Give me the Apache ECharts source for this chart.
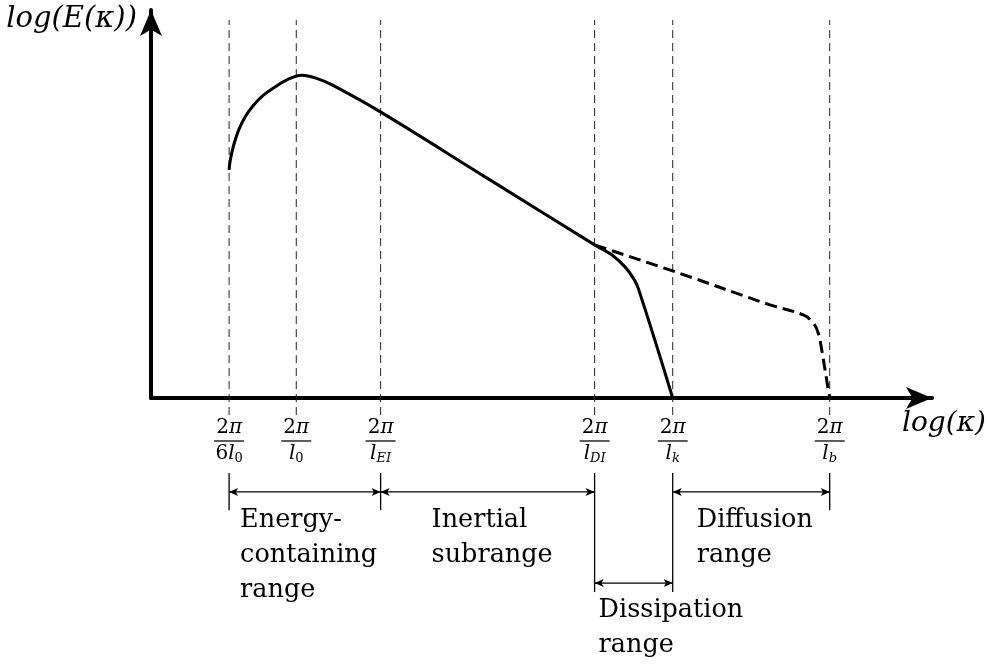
<!DOCTYPE html>
<html><head><meta charset="utf-8">
<script src="https://cdn.jsdelivr.net/npm/echarts@6/dist/echarts.min.js"></script>
<style>html,body{margin:0;padding:0;background:#fff}#c{width:989px;height:666px}</style>
</head><body><div id="c"></div>
<script>
// ---- data (log-wavenumber / log-energy, arbitrary units) ----
const markerK = [1.00, 1.86, 2.94, 5.68, 6.68, 8.69];
const tickCoef = ['6', '', '', '', '', ''];
const tickSub = ['0', '0', 'EI', 'DI', 'k', 'b'];

const spectrumK = [1.00, 1.015, 1.059, 1.123, 1.207, 1.315, 1.443, 1.592, 1.741, 1.933, 2.147, 2.318, 2.932, 4.3085, 5.685, 5.899, 6.069, 6.175, 6.239, 6.68];
const spectrumE = [5.88, 6.13, 6.52, 6.91, 7.25, 7.55, 7.81, 8.02, 8.20, 8.32, 8.22, 8.07, 7.38, 5.66, 3.94, 3.69, 3.38, 3.09, 2.83, 0.00];
const diffusionK = [5.685, 6.774, 7.926, 8.352, 8.480, 8.544, 8.588, 8.672, 8.69];
const diffusionE = [3.94, 3.21, 2.40, 2.14, 1.93, 1.67, 1.24, 0.21, 0.03];

const rangeNames = ['Energy-\ncontaining\nrange', 'Inertial\nsubrange', 'Diffusion\nrange', 'Dissipation\nrange'];
const rangeFrom = [0, 2, 4, 3];
const rangeTo = [2, 3, 5, 4];

// ---- layout (annotation placement below the axis) ----
const rangeRow = [0, 0, 0, 1];
const rowArrowY = [-2.42, -4.77];
const rowLineBottom = [-2.89, -5.0];
const rowLabelTop = [-2.70, -5.02];
const bracketTop = -1.93;
const labelDx = [11, 51, 24, 4];
const guideBottom = -0.44, guideTop = 9.74;

const F = '"DejaVu Serif", serif';
const chart = echarts.init(document.getElementById('c'));

const series = [];
// dashed guide lines
markerK.forEach(k => series.push({
  type: 'line', data: [[k, guideBottom], [k, guideTop]], symbol: 'none', clip: false, silent: true,
  lineStyle: {color: '#222', width: 1, type: [8, 5]}, z: 1
}));
// spectrum
series.push({
  type: 'line', data: spectrumK.map((k, i) => [k, spectrumE[i]]), symbol: 'none', smooth: 0.4,
  lineStyle: {color: '#000', width: 3}, z: 3
});
series.push({
  type: 'line', data: diffusionK.map((k, i) => [k, diffusionE[i]]), symbol: 'none', smooth: 0.4,
  lineStyle: {color: '#000', width: 3, type: [12, 6]}, z: 3
});
// bracket verticals
const markerRow = markerK.map(() => -1);
rangeFrom.forEach((f, i) => {
  [f, rangeTo[i]].forEach(m => { markerRow[m] = Math.max(markerRow[m], rangeRow[i]); });
});
markerK.forEach((k, m) => {
  if (markerRow[m] < 0) return;
  series.push({
    type: 'line', data: [[k, bracketTop], [k, rowLineBottom[markerRow[m]]]], symbol: 'none', clip: false, silent: true,
    lineStyle: {color: '#000', width: 1.3}
  });
});
// range arrows + labels
rangeNames.forEach((name, i) => {
  const y = rowArrowY[rangeRow[i]];
  series.push({
    type: 'line', clip: false, silent: true,
    data: [{value: [markerK[rangeFrom[i]], y], symbolRotate: 90}, {value: [markerK[rangeTo[i]], y], symbolRotate: -90}],
    symbol: 'arrow', symbolSize: [6, 9], showAllSymbol: true,
    itemStyle: {color: '#000'},
    lineStyle: {color: '#000', width: 1.3}
  });
  series.push({
    type: 'scatter', clip: false, silent: true, symbolSize: 0,
    itemStyle: {color: '#000', opacity: 1},
    data: [[markerK[rangeFrom[i]], rowLabelTop[rangeRow[i]]]],
    label: {
      show: true, position: [labelDx[i], 0], align: 'left', verticalAlign: 'top',
      formatter: name, fontFamily: F, fontSize: 25.5, lineHeight: 35, color: '#000'
    }
  });
});

function tickFormatter(v) {
  const i = markerK.indexOf(v);
  if (i < 0) return '';
  const sub = /^[0-9]+$/.test(tickSub[i]) ? '{s|' + tickSub[i] + '}' : '{si|' + tickSub[i] + '}';
  return '{n|2}{pi|π}\n{hr|}\n' + (tickCoef[i] ? '{d|' + tickCoef[i] + '}' : '') + '{l|l}' + sub;
}

chart.setOption({
  animation: false,
  grid: {left: 151, right: 57, top: 10, bottom: 268},
  xAxis: {
    type: 'value', min: 0, max: 10,
    axisLine: {onZero: false, symbol: ['none', 'arrow'], symbolSize: [16.5, 26], lineStyle: {color: '#000', width: 4}},
    axisTick: {show: false}, splitLine: {show: false},
    axisLabel: {
      customValues: markerK, margin: 19, formatter: tickFormatter, color: '#000',
      rich: {
        n: {fontFamily: F, fontSize: 20, lineHeight: 22, padding: [0, 0, 0, 2]},
        pi: {fontFamily: F, fontStyle: 'italic', fontSize: 20, lineHeight: 22, padding: [0, 2, 0, 0]},
        hr: {align: 'left', width: '100%', height: 0, borderColor: '#000', borderWidth: 0.8, lineHeight: 4},
        d: {fontFamily: F, fontSize: 20, lineHeight: 22},
        l: {fontFamily: F, fontStyle: 'italic', fontSize: 20, lineHeight: 22},
        s: {fontFamily: F, fontSize: 13, lineHeight: 10, verticalAlign: 'bottom'},
        si: {fontFamily: F, fontStyle: 'italic', fontSize: 13, lineHeight: 10, verticalAlign: 'bottom'}
      }
    },
    name: 'log(κ)', nameLocation: 'end', nameGap: -30,
    nameTextStyle: {fontFamily: F, fontStyle: 'italic', fontSize: 28, color: '#000', align: 'left', verticalAlign: 'top', padding: [12, 0, 0, 0]}
  },
  yAxis: {
    type: 'value', min: 0, max: 10,
    axisLine: {show: true, symbol: ['none', 'arrow'], symbolSize: [16.5, 26], lineStyle: {color: '#000', width: 4}},
    axisTick: {show: false}, splitLine: {show: false}, axisLabel: {show: false},
    name: 'log(E(κ))', nameLocation: 'end', nameGap: 5,
    nameTextStyle: {fontFamily: F, fontStyle: 'italic', fontSize: 29, color: '#000', align: 'right', verticalAlign: 'top', padding: [0, 14, 0, 0]}
  },
  series: series
});
</script>
</body></html>
